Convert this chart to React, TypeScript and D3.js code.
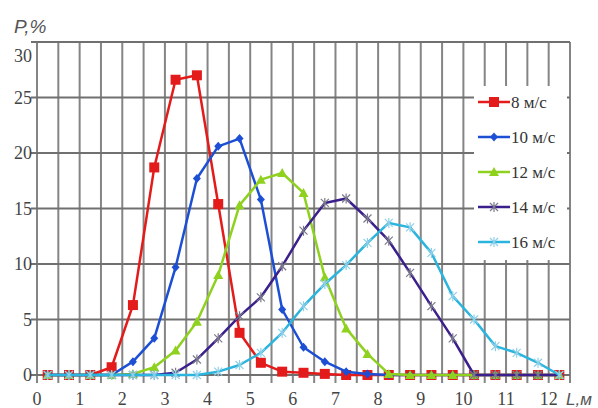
import React from "react";
import * as d3 from "d3";

// bin centres, L, m
const lengths = [0.25, 0.75, 1.25, 1.75, 2.25, 2.75, 3.25, 3.75, 4.25, 4.75, 5.25, 5.75, 6.25, 6.75, 7.25, 7.75, 8.25, 8.75, 9.25, 9.75, 10.25, 10.75, 11.25, 11.75, 12.25];

// P, % for each wind speed
const p8 = [0, 0, 0, 0.7, 6.3, 18.7, 26.6, 27.0, 15.4, 3.8, 1.1, 0.3, 0.2, 0.1, 0, 0, 0, 0, 0, 0, 0, 0, 0, 0, 0];
const p10 = [0, 0, 0, 0, 1.2, 3.3, 9.7, 17.7, 20.6, 21.3, 15.8, 5.9, 2.5, 1.2, 0.3, 0.1, 0, 0, 0, 0, 0, 0, 0, 0, 0];
const p12 = [0, 0, 0, 0, 0.1, 0.7, 2.2, 4.8, 9.0, 15.3, 17.6, 18.2, 16.4, 8.8, 4.2, 1.9, 0.1, 0, 0, 0, 0, 0, 0, 0, 0];
const p14 = [0, 0, 0, 0, 0, 0, 0.2, 1.4, 3.3, 5.3, 7.0, 9.8, 13.0, 15.5, 15.9, 14.1, 12.1, 9.2, 6.2, 3.3, 0, 0, 0, 0, 0];
const p16 = [0, 0, 0, 0, 0, 0, 0, 0, 0.3, 0.9, 2.0, 3.8, 6.2, 8.2, 9.9, 11.9, 13.7, 13.3, 11.0, 7.1, 5.0, 2.6, 2.0, 1.1, 0];

const seriesNames = ["8 м/с", "10 м/с", "12 м/с", "14 м/с", "16 м/с"];
const seriesValues = [p8, p10, p12, p14, p16];
const seriesColors = ["#e31b1b", "#1c4fd4", "#8fd11f", "#3b1f8c", "#2bb4dd"];
const seriesMarkers = ["square", "diamond", "triangle", "cross", "star"];

const xTicks = [0, 1, 2, 3, 4, 5, 6, 7, 8, 9, 10, 11, 12];
const xGrid = [0, 0.5, 1, 1.5, 2, 2.5, 3, 3.5, 4, 4.5, 5, 5.5, 6, 6.5, 7, 7.5, 8, 8.5, 9, 9.5, 10, 10.5, 11, 11.5, 12, 12.5];
const yTicks = [0, 5, 10, 15, 20, 25, 30];

const serif = "Liberation Serif";
const sans = "Liberation Sans";

const markerPath = (kind, color) => {
  if (kind === "square") return { d: "M-5,-5H5V5H-5Z", fill: color, stroke: "none" };
  if (kind === "diamond") return { d: "M0,-4.5L4,0L0,4.5L-4,0Z", fill: color, stroke: "none" };
  if (kind === "triangle") return { d: "M0,-5L5,4H-5Z", fill: color, stroke: "none" };
  if (kind === "cross") return { d: "M-4,-4L4,4M-4,4L4,-4M0,-5V5", fill: "none", stroke: "#7a7a8a" };
  return { d: "M-4,-4L4,4M-4,4L4,-4M0,-5V5", fill: "none", stroke: "#8fd0e8" };
};

const xScale = d3.scaleLinear().domain([0, 12.5]).range([37, 570]);
const yScale = d3.scaleLinear().domain([0, 30]).range([375, 42]);

const line = d3.line<number>()
  .x((d, i) => xScale(lengths[i]))
  .y((d) => yScale(d));

const Marker = ({ kind, color, x, y }) => {
  const m = markerPath(kind, color);
  return <path transform={`translate(${x},${y})`} d={m.d} fill={m.fill} stroke={m.stroke} strokeWidth={1.2} />;
};

export default function App() {
  return (
    <div style={{ position: "absolute", left: 0, top: 0 }}>
      <svg width={598} height={408} style={{ display: "block" }}>
        {/* grid */}
        {xGrid.map((d) => (
          <line key={"vx" + d} x1={xScale(d)} x2={xScale(d)} y1={yScale(30)} y2={yScale(0) + 8}
            stroke="#858585" strokeWidth={2} />
        ))}
        {yTicks.map((d) => (
          <line key={"hy" + d} x1={xScale(0) - 6} x2={xScale(12.5)} y1={yScale(d)} y2={yScale(d)}
            stroke="#707070" strokeWidth={2} />
        ))}

        {/* tick labels */}
        {yTicks.map((d) => (
          <text key={"ty" + d} x={32} y={d === 30 ? yScale(d) + 14 : yScale(d)} dy="0.35em" textAnchor="end"
            fontFamily={serif} fontSize={18} fill="#444">{d}</text>
        ))}
        {xTicks.map((d) => (
          <text key={"tx" + d} x={xScale(d)} y={405} textAnchor="middle"
            fontFamily={serif} fontSize={18} fill="#444">{d}</text>
        ))}

        <text x={14} y={33} fontFamily={sans} fontStyle="italic" fontSize={19} fill="#555">P,%</text>
        <text x={566} y={405} fontFamily={sans} fontStyle="italic" fontSize={17} fill="#555">L,м</text>

        {/* legend background hides grid behind it */}
        <rect x={474} y={86} width={93} height={174} fill="#fff" />

        {seriesValues.map((values, s) => (
          <g key={"s" + s}>
            <path d={line(values)} fill="none" stroke={seriesColors[s]} strokeWidth={2.5} strokeLinejoin="round" />
            {values.map((v, i) => (
              <Marker key={i} kind={seriesMarkers[s]} color={seriesColors[s]} x={xScale(lengths[i])} y={yScale(v)} />
            ))}
          </g>
        ))}

        {/* legend */}
        {seriesNames.map((name, s) => {
          const y = 102 + s * 35;
          return (
            <g key={"l" + s}>
              <line x1={478} x2={510} y1={y} y2={y} stroke={seriesColors[s]} strokeWidth={2.5} />
              <Marker kind={seriesMarkers[s]} color={seriesColors[s]} x={494} y={y} />
              <text x={511} y={y} dy="0.35em" fontFamily={serif} fontSize={17} fill="#333">{name}</text>
            </g>
          );
        })}
      </svg>
    </div>
  );
}
